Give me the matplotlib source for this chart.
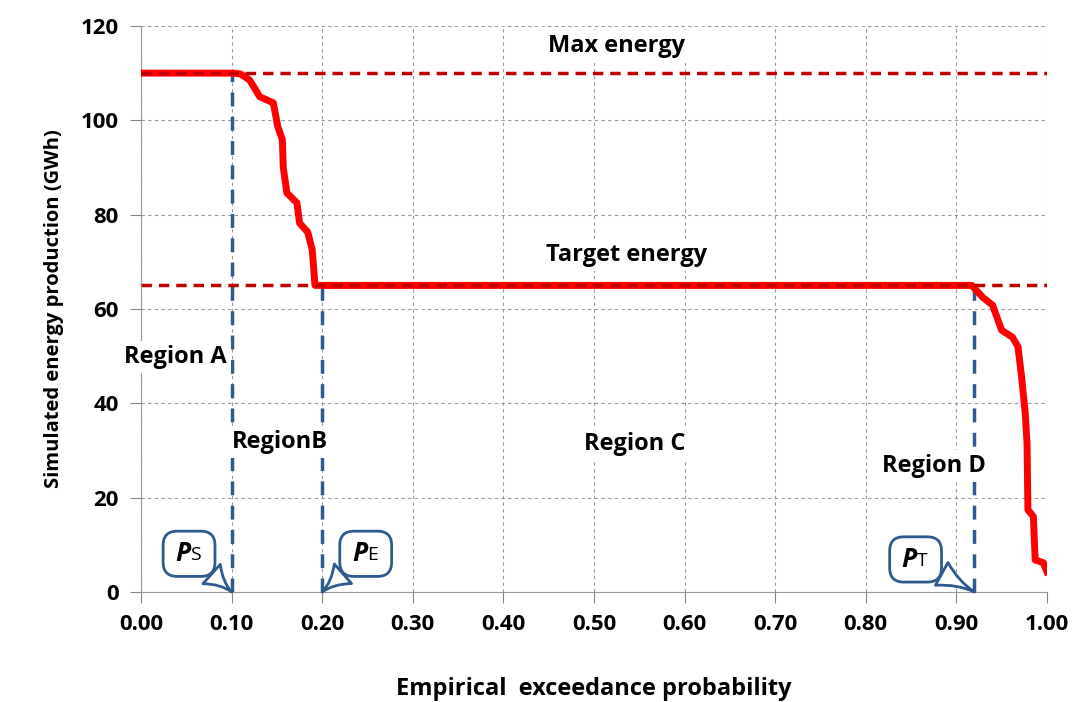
from matplotlib import pyplot as plt

# exceedance curve
prob = [0.0, 0.05, 0.1016, 0.11, 0.12, 0.131, 0.146, 0.151, 0.156, 0.157, 0.161,
        0.172, 0.175, 0.184, 0.189, 0.192, 0.30, 0.50, 0.70, 0.917, 0.929, 0.940,
        0.950, 0.962, 0.968, 0.972, 0.976, 0.978, 0.979, 0.985, 0.987, 0.996, 1.0]
energy = [110, 110, 110, 109.8, 108.5, 105, 103.7, 98.6, 95.9, 90, 84.6,
          82.5, 78.2, 76.3, 72.5, 65, 65, 65, 65, 65, 62.5, 60.8,
          55.5, 54, 52, 45.6, 38, 31.6, 17.4, 16, 6.8, 6.2, 4.3]

maxEnergy = 110
targetEnergy = 65
pS, pE, pT = 0.10, 0.20, 0.92

xticks = [0.0, 0.1, 0.2, 0.3, 0.4, 0.5, 0.6, 0.7, 0.8, 0.9, 1.0]
yticks = [0, 20, 40, 60, 80, 100, 120]

plt.rcParams['font.family'] = ['Open Sans', 'DejaVu Sans']
plt.rcParams['font.weight'] = 'bold'

fig = plt.figure(figsize=(10.8, 7.02), dpi=100)
ax = fig.add_axes([0.1306, 0.1567, 0.8388, 0.8063])

ax.set_xlim(0, 1)
ax.set_ylim(0, 120)
ax.set_xticks(xticks)
ax.set_yticks(yticks)
ax.set_xticklabels(["{:.2f}".format(v) for v in xticks], fontsize=16, fontweight='bold')
ax.set_yticklabels([str(v) for v in yticks], fontsize=16, fontweight='bold')
ax.tick_params(direction='out', length=8, color='#888888', pad=8)
ax.grid(True, color='#999999', linestyle=(0, (3, 3)), linewidth=0.8)
ax.set_axisbelow(True)
for s in ['top', 'right']:
    ax.spines[s].set_visible(False)
for s in ['left', 'bottom']:
    ax.spines[s].set_color('#999999')

blue = '#2F5A8E'
ax.plot([pS, pS], [0, maxEnergy], color=blue, lw=2.5, ls=(0, (4, 3)), zorder=2)
ax.plot([pE, pE], [0, targetEnergy], color=blue, lw=2.5, ls=(0, (4, 3)), zorder=2)
ax.plot([pT, pT], [0, targetEnergy], color=blue, lw=2.5, ls=(0, (4, 3)), zorder=2)

ax.plot(prob, energy, color='#FF0000', lw=5, zorder=3, solid_joinstyle='round')
ax.axhline(maxEnergy, color='#C00000', lw=2.5, ls=(0, (3, 2)), zorder=4)
ax.axhline(targetEnergy, color='#C00000', lw=2.5, ls=(0, (3, 2)), zorder=4)

box = dict(facecolor='white', edgecolor='none', pad=3)
labels = [("Max energy", 0.525, 115.7), ("Target energy", 0.536, 71.4),
          ("Region A", 0.0375, 49.8), ("RegionB", 0.153, 31.8),
          ("Region C", 0.545, 31.4), ("Region D", 0.875, 26.7)]
for txt, x, y in labels:
    ax.text(x, y, txt, ha='center', va='center', fontsize=17, fontweight='bold', bbox=box, zorder=5)

# callouts: blank text sizes the bubble, P and subscript drawn on top
callout = dict(boxstyle='round,pad=0.45,rounding_size=0.6', facecolor='white', edgecolor=blue, linewidth=2)
arrow = dict(arrowstyle='wedge,tail_width=1.1,shrink_factor=0.3', facecolor='white', edgecolor=blue,
             linewidth=2, shrinkA=0, shrinkB=0)
for lab, px, tx, ty in [("S", pS, 0.053, 8.1), ("E", pE, 0.248, 8.1), ("T", pT, 0.855, 6.9)]:
    ax.annotate("     ", xy=(px, 0), xytext=(tx, ty), fontsize=17,
                ha='center', va='center', bbox=callout, arrowprops=arrow, zorder=6,
                annotation_clip=False)
    ax.annotate("P", xy=(tx, ty), xytext=(1, 0), textcoords='offset points', fontsize=19,
                fontweight='bold', fontstyle='italic', ha='right', va='center', zorder=7)
    ax.annotate(lab, xy=(tx, ty), xytext=(1, -1), textcoords='offset points', fontsize=14,
                fontweight='normal', ha='left', va='center', zorder=7)

ax.set_xlabel("Empirical  exceedance probability", fontsize=17, fontweight='bold', labelpad=30)
ax.set_ylabel("Simulated energy production (GWh)", fontsize=14.5, fontweight='bold', labelpad=12)

plt.savefig("out.png", dpi=100)
